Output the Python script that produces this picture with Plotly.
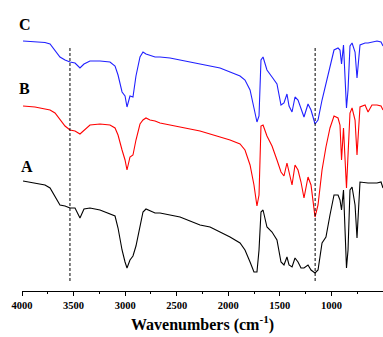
import plotly.graph_objects as go

# Wavenumber grid (cm^-1)
wavenumber = [3990, 3874, 3777, 3728, 3680, 3632, 3583, 3535, 3486, 3438,
              3399, 3341, 3244, 3147, 3098, 3069, 3030, 3001, 2982, 2953,
              2924, 2895, 2856, 2827, 2798, 2759, 2710, 2662, 2565, 2468,
              2371, 2274, 2177, 2080, 1983, 1886, 1838, 1789, 1751, 1722,
              1702, 1683, 1663, 1625, 1576, 1528, 1489, 1460, 1431, 1411,
              1382, 1353, 1324, 1295, 1266, 1227, 1198, 1159, 1130, 1091,
              1053, 1014, 975, 936, 917, 902, 883, 854, 839, 820,
              800, 771, 752, 723, 674, 645, 607, 558, 519, 500]

# Stacked transmittance (a.u.)
spec_C = [250, 249, 248.5, 247, 241, 234, 231, 229, 228, 223,
          227, 230, 230, 229, 225, 216, 199, 195, 184, 195,
          194, 215, 234, 239, 237, 236, 234, 234, 233, 231,
          229, 227, 225, 223, 219, 215, 211, 201, 183, 169,
          175, 231, 234, 221, 214, 207, 186, 188, 197, 185,
          179, 194, 191, 183, 174, 187, 181, 167, 171, 191,
          207, 225, 241, 243, 241, 227, 246, 183, 201, 245,
          248, 239, 213, 246, 248, 248, 249, 250, 249, 245]

spec_B = [185, 184, 182, 181, 178, 171, 165, 161, 160, 157,
          161, 166, 167, 166, 163, 156, 141, 131, 121, 134,
          136, 151, 167, 171, 173, 171, 170, 168, 166, 164,
          162, 160, 157, 154, 151, 147, 141, 126, 106, 85,
          96, 165, 166, 155, 145, 131, 119, 115, 128, 119,
          106, 126, 121, 109, 93, 114, 106, 74, 86, 121,
          144, 163, 175, 173, 166, 131, 163, 103, 131, 178,
          183, 171, 136, 184, 186, 179, 186, 186, 185, 181]

spec_A = [110, 108, 106, 103, 95, 86, 85, 83, 83, 73,
          82, 83, 81, 77, 75, 63, 41, 29, 23, 31,
          35, 45, 63, 79, 82, 80, 78, 78, 76, 74,
          70, 66, 64, 59, 54, 48, 41, 29, 19, 19,
          41, 79, 81, 64, 59, 51, 29, 26, 34, 26,
          24, 33, 29, 23, 23, 26, 21, 18, 21, 48,
          54, 76, 96, 96, 91, 81, 101, 23, 41, 101,
          104, 86, 53, 109, 108, 108, 108, 108, 109, 103]

series_labels = ["A", "B", "C"]
series_colors = ["#000000", "#ff0000", "#2020ff"]
marker_lines = [3535, 1158]
tick_values = [4000, 3500, 3000, 2500, 2000, 1500, 1000, 500]

serif = "Liberation Serif"

fig = go.Figure()
for name, ys, col in zip(series_labels, [spec_A, spec_B, spec_C], series_colors):
    fig.add_trace(go.Scatter(x=wavenumber, y=ys, mode="lines", name=name,
                             line=dict(color=col, width=1.1), showlegend=False))

for xv in marker_lines:
    fig.add_shape(type="line", x0=xv, x1=xv, y0=10, y1=245, xref="x", yref="y",
                  line=dict(color="black", width=1, dash="3px,2px"))

label_pos = {"C": (3975, 267), "B": (3975, 203), "A": (3955, 125)}
for lab, (lx, ly) in label_pos.items():
    fig.add_annotation(x=lx, y=ly, xref="x", yref="y", text=lab, showarrow=False,
                       font=dict(family=serif, size=16, color="black", weight="bold"))

fig.add_annotation(x=0.5, y=-0.156, xref="paper", yref="paper", yanchor="bottom",
                   text="Wavenumbers (cm<sup>-1</sup>)", showarrow=False,
                   font=dict(family=serif, size=16, color="black", weight="bold"))

fig.update_layout(
    width=383, height=337,
    margin=dict(l=22, r=0, t=0, b=46, autoexpand=False),
    paper_bgcolor="white", plot_bgcolor="white",
    xaxis=dict(range=[4000, 500], tickvals=tick_values, automargin=False,
               ticks="outside", ticklen=4, tickwidth=1, tickcolor="black",
               minor=dict(dtick=250, ticks="outside", ticklen=2, tickcolor="black"),
               showline=True, linecolor="black", linewidth=1,
               showgrid=False, zeroline=False,
               tickfont=dict(family=serif, size=10.5, color="black", weight="bold")),
    yaxis=dict(range=[0, 291], visible=False, showgrid=False, zeroline=False,
               automargin=False),
)

fig.write_html("out.html", config={"displayModeBar": False},
               post_script="document.body.style.margin='0';document.body.style.overflow='hidden';")
